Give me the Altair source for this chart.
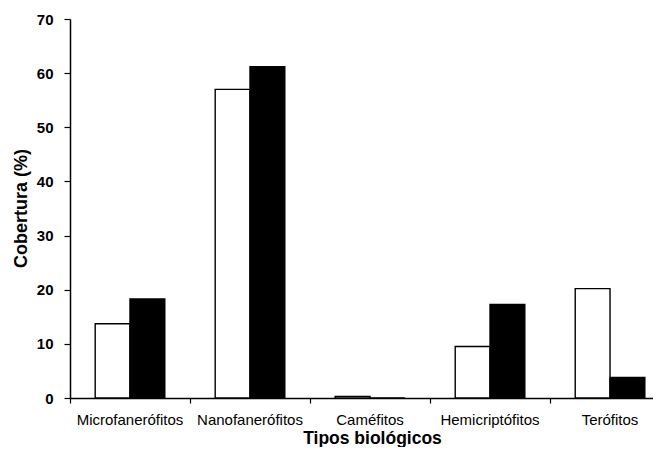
import altair as alt
import pandas as pd

categorias = ["Microfanerófitos", "Nanofanerófitos", "Caméfitos", "Hemicriptófitos", "Terófitos"]
serie_blanca = [13.7, 57.0, 0.3, 9.5, 20.2]
serie_negra = [18.3, 61.2, 0.0, 17.3, 3.8]
series = ["A", "B"]
y_ticks = [0, 10, 20, 30, 40, 50, 60, 70]

rows = []
for c, a, b in zip(categorias, serie_blanca, serie_negra):
    rows.append({"cat": c, "serie": "A", "valor": a})
    rows.append({"cat": c, "serie": "B", "valor": b})
df = pd.DataFrame(rows)

FONT = "Liberation Sans"
xscale = alt.Scale(domain=categorias, paddingInner=0.42, paddingOuter=0.139, align=0.755)

bars = alt.Chart(df).mark_bar(stroke="black", strokeWidth=1.4).encode(
    x=alt.X(
        "cat:N", sort=categorias, scale=xscale,
        axis=alt.Axis(
            title="Tipos biológicos", ticks=False, domain=True, domainColor="black",
            domainWidth=1.5, labelAngle=0, labelFont=FONT, labelFontSize=15,
            labelColor="black", labelPadding=14, titleFont=FONT, titleFontSize=17.5,
            titleFontWeight="bold", titleColor="black", titleBaseline="alphabetic",
            titleX=302, titleY=45.5, grid=False, orient="bottom",
        ),
    ),
    xOffset=alt.XOffset("serie:N", sort=series, scale=alt.Scale(paddingInner=0, paddingOuter=0)),
    y=alt.Y(
        "valor:Q", scale=alt.Scale(domain=[0, 70], nice=False),
        axis=alt.Axis(
            values=y_ticks, title="Cobertura (%)", grid=False, domainColor="black",
            domainWidth=1.5, tickColor="black", tickSize=6, tickWidth=1.2,
            labelFont=FONT, labelFontSize=15, labelFontWeight="bold", labelColor="black",
            labelPadding=11, titleFont=FONT, titleFontSize=18, titleFontWeight="bold",
            titleColor="black", titleX=-40, titleY=189,
        ),
    ),
    fill=alt.Fill("serie:N", scale=alt.Scale(domain=series, range=["white", "black"]), legend=None),
)

ticks = alt.Chart(df).mark_point(opacity=0).encode(
    x=alt.X(
        "cat:N", sort=categorias, scale=xscale,
        axis=alt.Axis(
            bandPosition=0, tickOffset=-25.2, labels=False, domain=False, ticks=True,
            tickSize=5, tickColor="black", tickWidth=1.2, title=None, orient="bottom",
            grid=False,
        ),
    ),
    y=alt.value(379),
)

chart = (
    alt.layer(bars, ticks)
    .resolve_axis(x="independent")
    .properties(
        width=583, height=379,
        autosize=alt.AutoSizeParams(type="none"),
        padding={"left": 62, "top": 11, "right": 0, "bottom": 49},
    )
    .configure_view(stroke=None)
)

chart.save("out.html", embed_options={"renderer": "svg", "actions": False})
